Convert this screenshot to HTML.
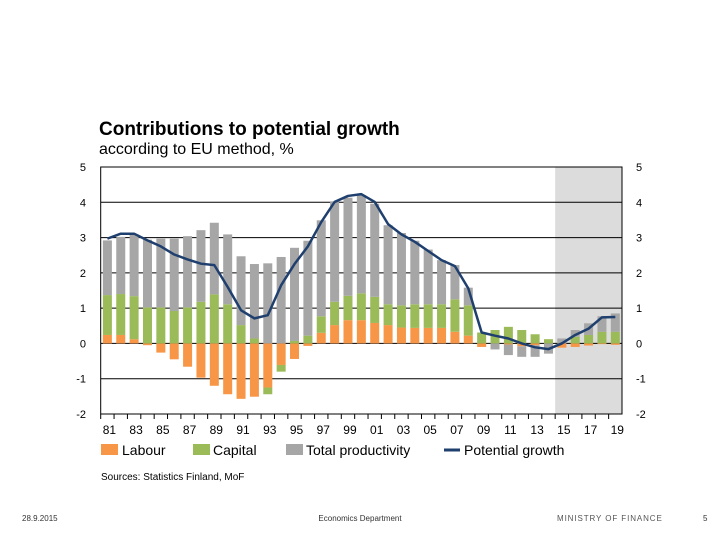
<!DOCTYPE html>
<html><head><meta charset="utf-8"><style>
body{margin:0;background:#fff;width:720px;height:540px;overflow:hidden;font-family:"Liberation Sans",Arial,sans-serif}
svg{display:block}
</style></head><body>
<svg width="720" height="540">
<text x="99" y="135" font-size="19" font-weight="bold" fill="#000">Contributions to potential growth</text>
<text x="99" y="154" font-size="16" fill="#000">according to EU method, %</text>
<g id="plot"></g>
<g font-size="14">
<g><rect x="101" y="444" width="17" height="11" fill="#f79646"/><text x="122" y="455">Labour</text></g>
<g><rect x="193" y="444" width="17" height="11" fill="#9bbb59"/><text x="213" y="455">Capital</text></g>
<g><rect x="286" y="444" width="17" height="11" fill="#a6a6a6"/><text x="306" y="455">Total productivity</text></g>
<g><line x1="444" y1="450" x2="460" y2="450" stroke="#1f3f6e" stroke-width="3"/><text x="464" y="455">Potential growth</text></g>
</g>
<text x="101" y="480" font-size="10">Sources: Statistics Finland, MoF</text>
<text x="22" y="521" font-size="8" fill="#333">28.9.2015</text>
<text x="360" y="521" font-size="8" fill="#333" text-anchor="middle">Economics Department</text>
<text x="557" y="521" font-size="8" fill="#555" letter-spacing="0.9">MINISTRY OF FINANCE</text>
<text x="703" y="521" font-size="8" fill="#333">5</text>
</svg>
<script>
const years=[81,82,83,84,85,86,87,88,89,90,91,92,93,94,95,96,97,98,99,0,1,2,3,4,5,6,7,8,9,10,11,12,13,14,15,16,17,18,19];
const labour=[0.24,0.24,0.12,-0.05,-0.26,-0.45,-0.66,-0.97,-1.2,-1.44,-1.57,-1.51,-1.25,-0.61,-0.44,-0.07,0.3,0.52,0.66,0.66,0.58,0.52,0.45,0.44,0.44,0.44,0.33,0.22,-0.1,0,-0.03,-0.08,-0.05,0,-0.12,-0.1,-0.06,-0.02,-0.04];
const capital=[1.13,1.16,1.22,1.02,1.02,0.92,1.02,1.18,1.39,1.11,0.52,0.14,-0.19,-0.19,0.07,0.22,0.47,0.66,0.69,0.76,0.74,0.59,0.63,0.67,0.67,0.67,0.92,0.86,0.31,0.38,0.47,0.38,0.26,0.12,0,0.19,0.24,0.33,0.33];
const productivity=[1.55,1.62,1.75,1.92,1.95,2.05,2.02,2.03,2.03,1.98,1.95,2.11,2.27,2.45,2.64,2.69,2.72,2.83,2.78,2.78,2.64,2.24,2.05,1.8,1.55,1.25,0.97,0.5,0,-0.17,-0.3,-0.3,-0.33,-0.29,0.14,0.19,0.33,0.44,0.52];
const potential=[2.97,3.11,3.11,2.92,2.75,2.52,2.38,2.26,2.22,1.6,0.94,0.71,0.8,1.65,2.25,2.75,3.44,4.01,4.18,4.23,4.01,3.38,3.09,2.88,2.62,2.36,2.19,1.56,0.31,0.22,0.14,0,-0.11,-0.16,0,0.24,0.42,0.74,0.75];
const yTicks=[5,4,3,2,1,0,-1,-2];
const forecastStart=34;
const L=100.7,R=622,T=167,B=414,ymin=-2,ymax=5;
const step=(R-L)/years.length, bw=9;
const X=i=>L+step*(i+0.5);
const Y=v=>B-(v-ymin)/(ymax-ymin)*(B-T);
const NS='http://www.w3.org/2000/svg';
const g=document.getElementById('plot');
function mk(t,a){const e=document.createElementNS(NS,t);for(const k in a)e.setAttribute(k,a[k]);g.appendChild(e);return e;}
let e=mk('rect',{x:L+step*forecastStart,y:T,width:R-L-step*forecastStart,height:B-T,fill:'#dcdcdc'});


yTicks.forEach(v=>{
  if(v!==ymax&&v!==ymin){const l=mk('line',{x1:L,x2:R,y1:Y(v),y2:Y(v),stroke:'#000','stroke-width':1});
  
  }
  const a=mk('text',{x:86,y:Y(v)+4,'font-size':11,'text-anchor':'end',fill:'#000'});a.textContent=v;
  
  
  const b=mk('text',{x:636,y:Y(v)+4,'font-size':11,fill:'#000'});b.textContent=v;
  
  
});
years.forEach((yr,i)=>{
  const x=X(i)-bw/2;let pos=0,neg=0;
  [[labour[i],'#f79646','bar-labour'],[capital[i],'#9bbb59','bar-capital'],[productivity[i],'#a6a6a6','bar-productivity']].forEach(([v,c,n])=>{
    let y0,y1;
    if(v>=0){y0=pos;y1=pos+v;pos=y1;}else{y0=neg;y1=neg+v;neg=y1;}
    const r=mk('rect',{x:x,y:Math.min(Y(y0),Y(y1)),width:bw,height:Math.abs(Y(y0)-Y(y1)),fill:c});
    
    
  });
  const tk=mk('line',{x1:L+step*i,x2:L+step*i,y1:B,y2:B+5,stroke:'#000'});
  
  
  if(i%2===0){const t=mk('text',{x:X(i)+2,y:B+20,'font-size':12,'text-anchor':'middle'});t.textContent=String(yr).padStart(2,'0');
  
  }
});
const p=mk('polyline',{points:potential.map((v,i)=>X(i)+','+Y(v)).join(' '),fill:'none',stroke:'#1f3f6e','stroke-width':2.5,'stroke-linejoin':'round'});


const f=mk('rect',{x:L,y:T,width:R-L,height:B-T,fill:'none',stroke:'#000','stroke-width':1});


</script>
</body></html>
